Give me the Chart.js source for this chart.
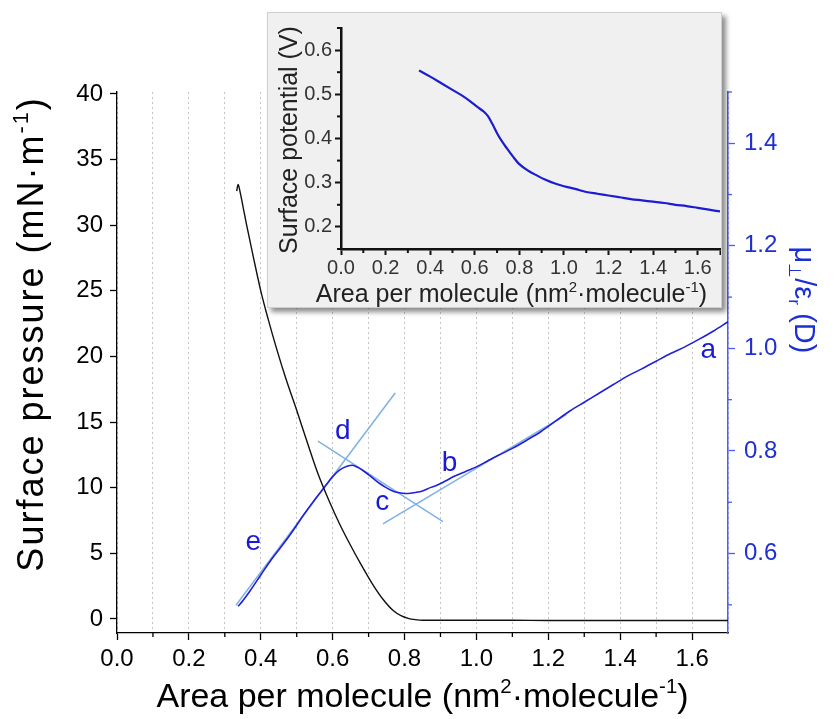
<!DOCTYPE html>
<html><head><meta charset="utf-8">
<script src="https://cdn.jsdelivr.net/npm/chart.js@4.4.0/dist/chart.umd.min.js"></script>
<style>
html,body{margin:0;padding:0;background:#fff;}
#wrap{position:relative;width:840px;height:719px;overflow:hidden;background:#fff;}
#main{position:absolute;left:0;top:0;}
#insetBox{position:absolute;left:267px;top:12px;width:455px;height:296px;background:#f0f0f0;border:1px solid #cfcfcf;box-sizing:border-box;box-shadow:4px 4px 5px rgba(0,0,0,0.45);}
#inset{position:absolute;left:0;top:0;}
</style></head>
<body>
<div id="wrap">
<canvas id="main" width="840" height="719"></canvas>
<div id="insetBox"><canvas id="inset" width="453" height="294"></canvas></div>
</div>
<script>
// ---------------- DATA ----------------
// Surface pressure isotherm (left axis, mN/m)
const pressureX = [0.333,0.337,0.342,0.35,0.36,0.38,0.40,0.42,0.445,0.47,0.50,0.53,0.56,0.59,0.62,0.65,0.68,0.71,0.74,0.77,0.79,0.81,0.83,0.85,0.90,1.00,1.10,1.20,1.30,1.40,1.50,1.60,1.70];
const pressureY = [32.6,33.1,32.6,31.5,30.1,27.5,25.0,22.9,20.5,18.3,15.9,13.4,11.0,9.0,7.2,5.6,4.1,2.7,1.5,0.6,0.25,0.05,-0.05,-0.1,-0.1,-0.1,-0.1,-0.12,-0.12,-0.12,-0.12,-0.12,-0.12];

// Dipole moment mu/eps (right axis, D)
const dipoleX = [0.337,0.35,0.37,0.40,0.43,0.46,0.49,0.52,0.55,0.58,0.60,0.62,0.64,0.655,0.67,0.69,0.71,0.73,0.75,0.77,0.79,0.81,0.83,0.85,0.87,0.89,0.91,0.94,0.97,1.00,1.03,1.06,1.10,1.14,1.18,1.22,1.26,1.30,1.34,1.38,1.42,1.46,1.50,1.54,1.58,1.62,1.66,1.70];
const dipoleY = [0.497,0.508,0.527,0.558,0.589,0.616,0.645,0.676,0.705,0.732,0.750,0.763,0.770,0.772,0.768,0.759,0.748,0.737,0.728,0.721,0.718,0.717,0.719,0.722,0.728,0.733,0.740,0.751,0.760,0.769,0.780,0.791,0.805,0.821,0.838,0.858,0.878,0.895,0.912,0.929,0.946,0.960,0.975,0.990,1.003,1.018,1.034,1.052];

// Tangent guide lines (right axis)
const tangentEX = [0.331, 0.774], tangentEY = [0.499, 0.913];
const tangentDX = [0.559, 0.907], tangentDY = [0.819, 0.662];
const tangentBX = [0.740, 1.25],  tangentBY = [0.658, 0.871];

// Region letters (right axis coordinates)
const letterText = ['a','b','c','d','e'];
const letterX = [1.645, 0.925, 0.738, 0.628, 0.379];
const letterY = [0.997, 0.776, 0.700, 0.839, 0.622];

// Inset: surface potential (V)
const insetX = [0.35,0.40,0.45,0.50,0.54,0.58,0.61,0.64,0.66,0.68,0.70,0.72,0.745,0.77,0.80,0.84,0.88,0.92,0.96,1.00,1.05,1.10,1.15,1.20,1.25,1.30,1.35,1.40,1.45,1.50,1.55,1.60,1.65,1.70];
const insetY = [0.554,0.540,0.525,0.510,0.498,0.484,0.472,0.461,0.450,0.432,0.412,0.395,0.377,0.360,0.342,0.327,0.316,0.306,0.298,0.292,0.286,0.279,0.275,0.271,0.267,0.263,0.260,0.257,0.254,0.250,0.247,0.243,0.239,0.235];

// Ticks
const xTicks = [0,0.1,0.2,0.3,0.4,0.5,0.6,0.7,0.8,0.9,1.0,1.1,1.2,1.3,1.4,1.5,1.6,1.7];
const xLabeled = [0,0.2,0.4,0.6,0.8,1.0,1.2,1.4,1.6];
const yTicks = [0,5,10,15,20,25,30,35,40];
const y2Ticks = [0.5,0.6,0.7,0.8,0.9,1.0,1.1,1.2,1.3,1.4,1.5];
const y2Labeled = [0.6,0.8,1.0,1.2,1.4];
const insetYTicks = [0.15,0.2,0.25,0.3,0.35,0.4,0.45,0.5,0.55,0.6,0.65];
const insetYLabeled = [0.2,0.3,0.4,0.5,0.6];

// Titles (rich text segments)
const xTitle = [{t:'Area per molecule (nm'},{t:'2',s:'sup'},{t:'·molecule'},{t:'-1',s:'sup'},{t:')'}];
const yTitle = [{t:'Surface pressure (mN·m'},{t:'-1',s:'sup'},{t:')'}];
const y2Title = [{t:'μ'},{t:'⊥',s:'sub'},{t:'/ε'},{t:'r',s:'sub'},{t:' (D)'}];
const insetYTitle = [{t:'Surface potential (V)'}];

// ---------------- HELPERS ----------------
const FONT = '"Liberation Sans", Arial, Helvetica, sans-serif';
const isIn = (v, arr) => arr.some(a => Math.abs(a - v) < 1e-6);
const pts = (xs, ys) => xs.map((x, i) => ({x, y: ys[i]}));

function drawRich(ctx, segs, cx, cy, rot, size, color, spacing) {
  ctx.save();
  ctx.translate(cx, cy);
  ctx.rotate(rot);
  ctx.fillStyle = color;
  ctx.textBaseline = 'alphabetic';
  ctx.textAlign = 'left';
  if ('letterSpacing' in ctx) ctx.letterSpacing = (spacing || 0) + 'px';
  let total = 0;
  segs.forEach(s => { ctx.font = (s.s ? size * 0.6 : size) + 'px ' + FONT; total += ctx.measureText(s.t).width; });
  let x = -total / 2;
  const base = size * 0.36;
  segs.forEach(s => {
    const fs = s.s ? size * 0.6 : size;
    ctx.font = fs + 'px ' + FONT;
    let dy = base;
    if (s.s === 'sup') dy = base - size * 0.42;
    if (s.s === 'sub') dy = base + size * 0.2;
    ctx.fillText(s.t, x, dy);
    x += ctx.measureText(s.t).width;
  });
  ctx.restore();
}

function minorTicks(ctx, scale, values, side, len, color, width) {
  ctx.save();
  ctx.strokeStyle = color; ctx.lineWidth = width;
  values.forEach(v => {
    const p = scale.getPixelForValue(v);
    ctx.beginPath();
    if (side === 'bottom') { ctx.moveTo(p, scale.top); ctx.lineTo(p, scale.top + len); }
    else if (side === 'left') { ctx.moveTo(scale.right, p); ctx.lineTo(scale.right - len, p); }
    else { ctx.moveTo(scale.left, p); ctx.lineTo(scale.left + len, p); }
    ctx.stroke();
  });
  ctx.restore();
}

// ---------------- MAIN CHART ----------------
const BLUE_AXIS = '#4b5bff';
const BLUE_TEXT = '#1f2fd2';
const mainDecor = {
  id: 'mainDecor',
  afterDraw(chart) {
    const ctx = chart.ctx, xs = chart.scales.x, yr = chart.scales.y2, ca = chart.chartArea;
    minorTicks(ctx, xs, xTicks.filter(v => !isIn(v, xLabeled) && v < 1.65), 'bottom', 4, '#000', 1.3);
    minorTicks(ctx, yr, y2Ticks.filter(v => !isIn(v, y2Labeled)), 'right', 4, BLUE_AXIS, 1.3);
    ctx.save();
    ctx.fillStyle = '#1a1ad6';
    ctx.font = '28px ' + FONT;
    ctx.textAlign = 'center'; ctx.textBaseline = 'middle';
    letterText.forEach((t, i) => ctx.fillText(t, xs.getPixelForValue(letterX[i]), yr.getPixelForValue(letterY[i])));
    ctx.restore();
    drawRich(ctx, xTitle, (ca.left + ca.right) / 2, 695, 0, 34, '#000', 0);
    drawRich(ctx, yTitle, 30, 334, -Math.PI / 2, 36, '#000', 2);
    drawRich(ctx, y2Title, 805, 300, Math.PI / 2, 29, '#1a2fd6', 0);
  }
};

new Chart(document.getElementById('main'), {
  type: 'line',
  data: {
    datasets: [
      {label: 'Surface pressure', data: pts(pressureX, pressureY), yAxisID: 'y', borderColor: '#111', borderWidth: 1.4, pointRadius: 0, cubicInterpolationMode: 'monotone', order: 0},
      {label: 'Dipole', data: pts(dipoleX, dipoleY), yAxisID: 'y2', borderColor: '#2020d8', borderWidth: 1.6, pointRadius: 0, cubicInterpolationMode: 'monotone', order: 1},
      {label: 'e-d', data: pts(tangentEX, tangentEY), yAxisID: 'y2', borderColor: '#7fb0e4', borderWidth: 1.5, pointRadius: 0, order: 2},
      {label: 'd-c', data: pts(tangentDX, tangentDY), yAxisID: 'y2', borderColor: '#7fb0e4', borderWidth: 1.5, pointRadius: 0, order: 2},
      {label: 'c-b', data: pts(tangentBX, tangentBY), yAxisID: 'y2', borderColor: '#7fb0e4', borderWidth: 1.5, pointRadius: 0, order: 2}
    ]
  },
  options: {
    responsive: false, animation: false, devicePixelRatio: 1,
    layout: {padding: {top: 92, left: 0, right: 0, bottom: 0}},
    plugins: {legend: {display: false}, tooltip: {enabled: false}},
    scales: {
      x: {
        type: 'linear', position: 'bottom', min: 0, max: 1.7,
        afterBuildTicks: s => { s.ticks = xTicks.map(v => ({value: v})); },
        afterFit: s => { s.height = 86; },
        grid: {color: '#c4c4c4', lineWidth: 1, tickLength: 7, tickWidth: 1.3,
               tickColor: c => (c.tick && isIn(c.tick.value, xLabeled)) ? '#000' : 'rgba(0,0,0,0)'},
        border: {display: true, color: '#000', width: 1.3, dash: [2, 3]},
        ticks: {autoSkip: false, maxRotation: 0, padding: 5, color: '#000', font: {family: FONT, size: 24},
                callback: v => isIn(v, xLabeled) ? v.toFixed(1) : ''}
      },
      y: {
        type: 'linear', position: 'left', min: -1.07, max: 40.15,
        afterBuildTicks: s => { s.ticks = yTicks.map(v => ({value: v})); },
        afterFit: s => { s.width = 117; },
        grid: {drawOnChartArea: false, tickLength: 7, tickWidth: 1.3, tickColor: '#000'},
        border: {display: true, color: '#000', width: 1.3},
        ticks: {autoSkip: false, padding: 7, color: '#000', font: {family: FONT, size: 24}, callback: v => String(v)}
      },
      y2: {
        type: 'linear', position: 'right', min: 0.445, max: 1.5,
        afterBuildTicks: s => { s.ticks = y2Ticks.map(v => ({value: v})); },
        afterFit: s => { s.width = 112; },
        grid: {drawOnChartArea: false, tickLength: 7, tickWidth: 1.3,
               tickColor: c => (c.tick && isIn(c.tick.value, y2Labeled)) ? BLUE_AXIS : 'rgba(0,0,0,0)'},
        border: {display: true, color: BLUE_AXIS, width: 1.5},
        ticks: {autoSkip: false, padding: 9, color: BLUE_TEXT, font: {family: FONT, size: 24},
                callback: v => isIn(v, y2Labeled) ? v.toFixed(1) : ''}
      }
    }
  },
  plugins: [mainDecor]
});

// ---------------- INSET CHART ----------------
const insetDecor = {
  id: 'insetDecor',
  afterDraw(chart) {
    const ctx = chart.ctx, xs = chart.scales.x, ys = chart.scales.y, ca = chart.chartArea;
    minorTicks(ctx, xs, xTicks.filter(v => !isIn(v, xLabeled) && v < 1.65), 'bottom', 4, '#111', 2);
    minorTicks(ctx, ys, insetYTicks.filter(v => !isIn(v, insetYLabeled)), 'left', 4, '#111', 2);
    drawRich(ctx, xTitle, (ca.left + ca.right) / 2 - 19, 280, 0, 25, '#222', 0);
    drawRich(ctx, insetYTitle, 20, 127, -Math.PI / 2, 25, '#222', 0);
  }
};

new Chart(document.getElementById('inset'), {
  type: 'line',
  data: {datasets: [
    {label: 'Surface potential', data: pts(insetX, insetY), borderColor: '#1c1cd0', borderWidth: 2.2, pointRadius: 0, cubicInterpolationMode: 'monotone'}
  ]},
  options: {
    responsive: false, animation: false, devicePixelRatio: 1,
    layout: {padding: {top: 11, left: 0, right: 0, bottom: 0}},
    plugins: {legend: {display: false}, tooltip: {enabled: false}},
    scales: {
      x: {
        type: 'linear', position: 'bottom', min: 0, max: 1.7,
        afterBuildTicks: s => { s.ticks = xTicks.map(v => ({value: v})); },
        afterFit: s => { s.height = 58; },
        grid: {drawOnChartArea: false, tickLength: 6, tickWidth: 2,
               tickColor: c => (c.tick && (isIn(c.tick.value, xLabeled) || c.tick.value > 1.65)) ? '#111' : 'rgba(0,0,0,0)'},
        border: {display: true, color: '#111', width: 2.5},
        ticks: {autoSkip: false, maxRotation: 0, padding: 1, color: '#333', font: {family: FONT, size: 20},
                callback: v => isIn(v, xLabeled) ? v.toFixed(1) : ''}
      },
      y: {
        type: 'linear', position: 'left', min: 0.15, max: 0.65,
        afterBuildTicks: s => { s.ticks = insetYTicks.map(v => ({value: v})); },
        afterFit: s => { s.width = 73; },
        grid: {drawOnChartArea: false, tickLength: 6, tickWidth: 2,
               tickColor: c => (c.tick && isIn(c.tick.value, insetYLabeled)) ? '#111' : 'rgba(0,0,0,0)'},
        border: {display: true, color: '#111', width: 2.5},
        ticks: {autoSkip: false, padding: 3, color: '#333', font: {family: FONT, size: 20},
                callback: v => isIn(v, insetYLabeled) ? v.toFixed(1) : ''}
      }
    }
  },
  plugins: [insetDecor]
});
</script>
</body></html>
